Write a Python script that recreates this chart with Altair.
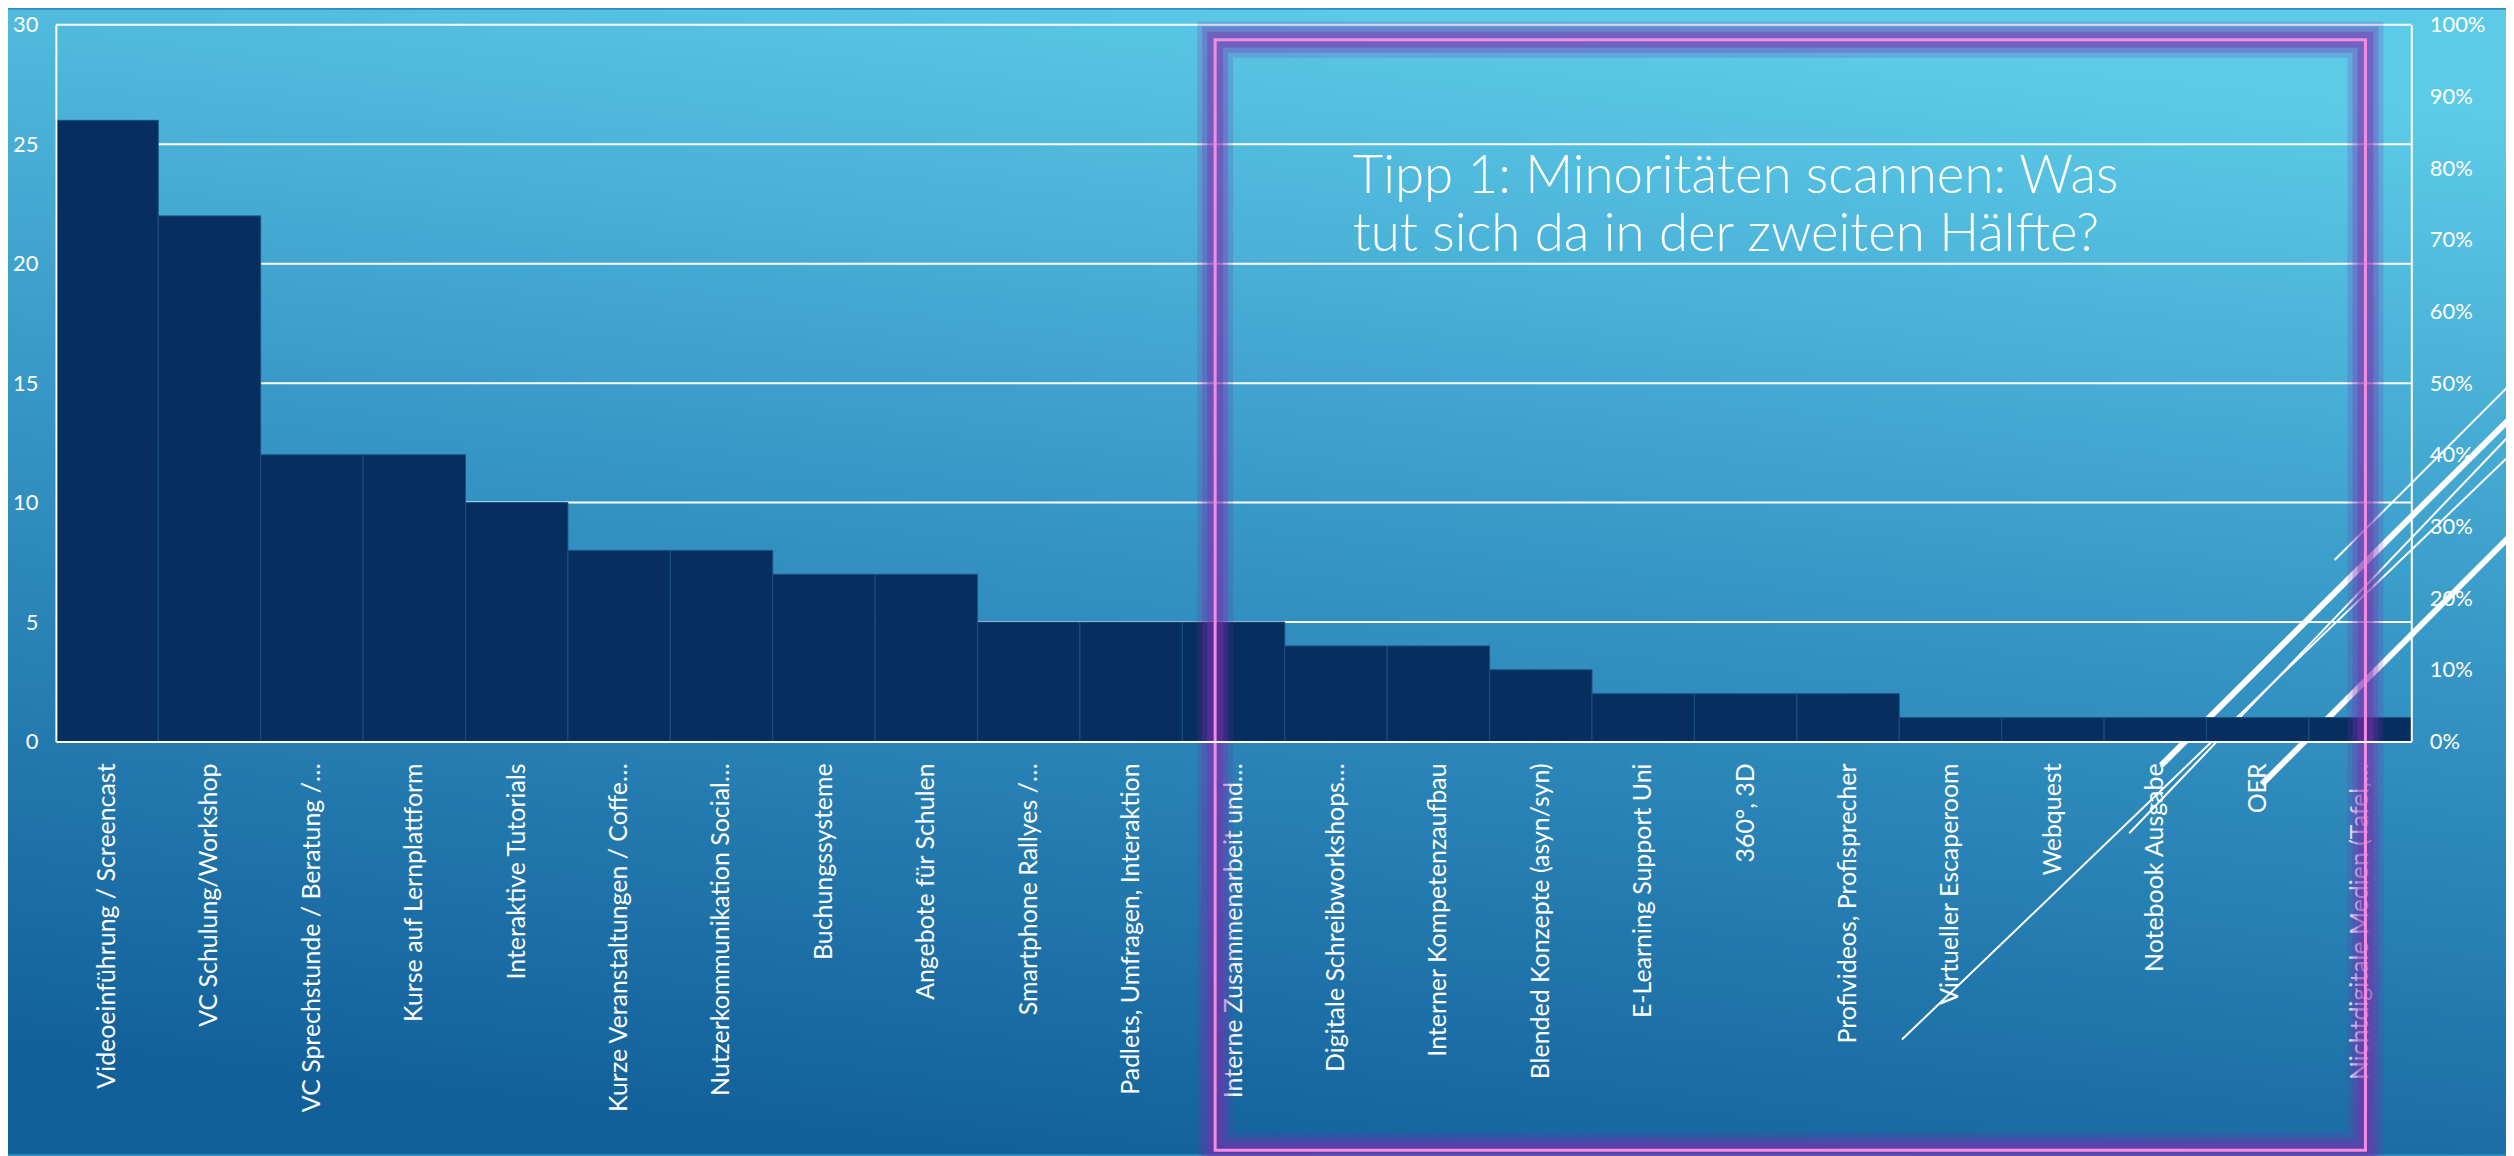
import altair as alt
import pandas as pd

# ---------------- data ----------------
categories = [
    "Videoeinführung / Screencast",
    "VC Schulung/Workshop",
    "VC Sprechstunde / Beratung /…",
    "Kurse auf Lernplattform",
    "Interaktive Tutorials",
    "Kurze Veranstaltungen / Coffe…",
    "Nutzerkommunikation Social…",
    "Buchungssysteme",
    "Angebote für Schulen",
    "Smartphone Rallyes /…",
    "Padlets, Umfragen, Interaktion",
    "Interne Zusammenarbeit und…",
    "Digitale Schreibworkshops…",
    "Interner Kompetenzaufbau",
    "Blended Konzepte (asyn/syn)",
    "E-Learning Support Uni",
    "360°, 3D",
    "Profivideos, Profisprecher",
    "Virtueller Escaperoom",
    "Webquest",
    "Notebook Ausgabe",
    "OER",
    "Nichtdigitale Medien (Tafel,…",
]
values = [26, 22, 12, 12, 10, 8, 8, 7, 7, 5, 5, 5, 4, 4, 3, 2, 2, 2, 1, 1, 1, 1, 1]
left_ticks = [0, 5, 10, 15, 20, 25, 30]
grid_values = [5, 10, 15, 20, 25, 30]
pct_ticks = [0, 0.1, 0.2, 0.3, 0.4, 0.5, 0.6, 0.7, 0.8, 0.9, 1.0]
tip_lines = ["Tipp 1: Minoritäten scannen: Was", "tut sich da in der zweiten Hälfte?"]

df = pd.DataFrame({"cat": categories, "value": values})
grid_df = pd.DataFrame({"g": grid_values})
pct_df = pd.DataFrame({"pct": [0.0, 1.0]})
one = alt.Data(values=[{"k": 1}])

# ---------------- layout ----------------
W, H = 2363, 719
PAD = {"left": 48, "top": 15, "right": 95, "bottom": 414}
FONT = "Lato"
WHITE = "#ffffff"

yscale = alt.Scale(domain=[0, 30], nice=False)
yaxis = alt.Axis(values=left_ticks, grid=False, ticks=False, domain=True,
                 domainColor=WHITE, domainWidth=2, labelColor=WHITE,
                 labelFontSize=22, labelFont=FONT, labelFontWeight=400,
                 labelPadding=18, title=None, zindex=1)
xaxis = alt.Axis(labels=False, ticks=False, domain=True, domainColor=WHITE,
                 domainWidth=2, title=None, zindex=1)
xenc = alt.X("cat:N", sort=None, scale=alt.Scale(paddingInner=0, paddingOuter=0), axis=xaxis)

# background gradient covering the whole canvas
bg = alt.Chart(one).mark_rect(
    fill={"gradient": "linear", "x1": 0.62, "y1": 0, "x2": 0.38, "y2": 1,
          "stops": [{"offset": 0, "color": "#5dcbe8"},
                    {"offset": 0.45, "color": "#3797c6"},
                    {"offset": 1, "color": "#12609a"}]}
).encode(x=alt.value(-PAD["left"]), x2=alt.value(W + PAD["right"]),
         y=alt.value(-PAD["top"]), y2=alt.value(H + PAD["bottom"]))

# decorative theme lines (bottom right)
def deco(x1, y1, x2, y2, w):
    return alt.Chart(one).mark_rule(color=WHITE, strokeWidth=w, strokeCap="butt").encode(
        x=alt.value(x1), y=alt.value(y1), x2=alt.value(x2), y2=alt.value(y2))

deco_lines = [
    deco(1852, 1018, 2470, 424, 2),
    deco(2080, 811, 2470, 403, 2),
    deco(2112, 743, 2470, 387, 6),
    deco(2213, 762, 2470, 505, 6),
    deco(2286, 537, 2470, 353, 2),
]

grid = alt.Chart(grid_df).mark_rule(color=WHITE, strokeWidth=2).encode(
    y=alt.Y("g:Q", scale=yscale, axis=yaxis))

bars = alt.Chart(df).mark_bar(color="#062e5f", stroke="#1d5083", strokeWidth=1).encode(
    x=xenc,
    y=alt.Y("value:Q", scale=yscale, axis=yaxis),
)

xlabels = alt.Chart(df).mark_text(
    angle=270, align="right", baseline="middle", color=WHITE,
    fontSize=25, font=FONT, fontWeight=400,
).encode(x=xenc, y=alt.value(H + 22), text="cat:N")

# pink highlight box with glow
bx1, bx2, by1, by2 = 1163, 2317, 15, 1129
def box(color, width, opacity):
    return alt.Chart(one).mark_rect(fill="transparent", stroke=color,
                                    strokeWidth=width, strokeOpacity=opacity).encode(
        x=alt.value(bx1), x2=alt.value(bx2), y=alt.value(by1), y2=alt.value(by2))

glow = [box("#7a2fb0", 36, 0.2), box("#7a2fb0", 26, 0.28), box("#7a2fb0", 16, 0.4)]
pink = box("#f58ce0", 3, 1.0)

tip = alt.Chart(one).mark_text(
    text=tip_lines, align="left", baseline="alphabetic", color=WHITE,
    fontSize=53, font="Lato", fontWeight=300, lineHeight=58,
).encode(x=alt.value(1301), y=alt.value(169))

left = alt.layer(bg, *deco_lines, grid, bars, xlabels, *glow, pink, tip)

pct = alt.Chart(pct_df).mark_point(opacity=0).encode(
    y=alt.Y("pct:Q", scale=alt.Scale(domain=[0, 1], nice=False),
            axis=alt.Axis(orient="right", values=pct_ticks, format=".0%", grid=False,
                          ticks=False, domain=True, domainColor=WHITE, domainWidth=2,
                          labelColor=WHITE, labelFontSize=22, labelFont=FONT,
                          labelFontWeight=400, labelPadding=18, title=None, zindex=1)))

chart = alt.layer(left, pct).resolve_scale(y="independent").properties(
    width=W, height=H,
    autosize=alt.AutoSizeParams(type="none"),
    padding=PAD,
    background="#2f8dc0",
).configure_view(strokeWidth=0)

chart.save("out.html", embed_options={"renderer": "svg", "actions": False})
